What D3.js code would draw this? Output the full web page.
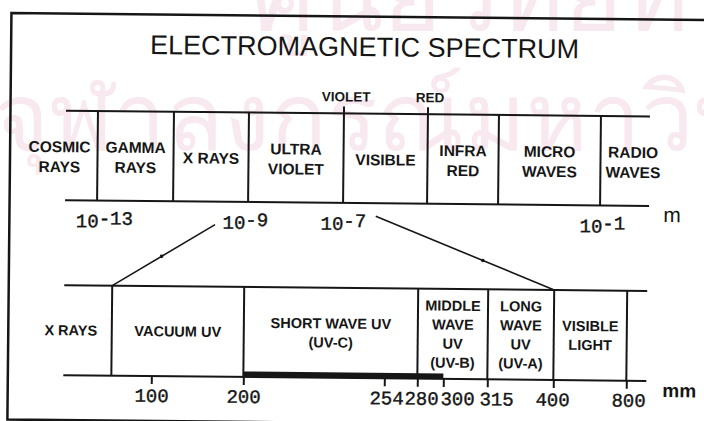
<!DOCTYPE html>
<html><head><meta charset="utf-8">
<script src="https://cdn.jsdelivr.net/npm/d3@7"></script>
<style>html,body{margin:0;padding:0;background:#fff;} svg{display:block;}</style>
</head><body>
<svg id="chart" width="704" height="421"></svg>
<script>
// ---------------- data ----------------
const title = "ELECTROMAGNETIC SPECTRUM";
// upper band: log10(wavelength / m), schematic band edges
const upperLabels = ["COSMIC|RAYS","GAMMA|RAYS","X RAYS","ULTRA|VIOLET","VISIBLE","INFRA|RED","MICRO|WAVES","RADIO|WAVES"];
const upperEdges = [-14, -13, -11, -9, -7, -6.2, -3, -1, 0];
const upperTicks = [-13, -9, -7, -1];
const upperTickExp = ["-13", "-9", "-7", "-1"];
const upperUnit = "m";
const visibleLabels = ["VIOLET", "RED"];
const visibleEdges = [-7, -6.2];
const zoomFrom = [-9, -7];
// lower band: wavelength (nm, labelled "mm" as in the source), schematic axis
const lowerLabels = ["X RAYS","VACUUM UV","SHORT WAVE UV|(UV-C)","MIDDLE|WAVE|UV|(UV-B)","LONG|WAVE|UV|(UV-A)","VISIBLE|LIGHT"];
const lowerEdges = [0, 10, 200, 280, 315, 400, 800, 1000];
const lowerTicks = [100, 200, 254, 280, 300, 315, 400, 800];
const lowerUnit = "mm";
const zoomTo = [10, 400];
const highlightRange = [200, 300];
const watermark = ["ศูนย์วิทยทรัพยากร", "จุฬาลงกรณ์มหาวิทยาลัย"];

// ---------------- layout / style ----------------
const L = {
  rot: 0.57, cx: 352, cy: 210,
  frameX: 9.5, frameTop: 16.5, frameBottom: 423,
  titleX: 363, titleY: 56, titleSize: 27,
  up: { top: 113.5, bottom: 203, stops: [65, 97, 173, 248, 343, 427, 498, 600, 649],
        labelCenter: 159.5, lh: 20, font: 15.5,
        labelShift: [-22, 0, 0, 0, 0, 0, 0, 8], markUp: 7, markLabelY: 101.5,
        tickShift: { "-13": 7, "-9": -3, "-7": 0, "-1": 2 } },
  low: { top: 288, bottom: 378, stops: [65, 113, 153, 245, 386, 419, 445, 489, 555, 628, 648],
         labelCenter: 333, lh: 19, font: 14.5, labelShift: [-17, 0, 0, 0, 0, 0], barH: 5.5,
         tickShift: { 254: 2, 280: 4, 300: 14, 315: 9, 400: -1, 800: 2 } },
  tickFont: 19, ink: "#161616", line: 2
};

const svg = d3.select("#chart");
svg.append("rect").attr("width", 704).attr("height", 421).attr("fill", "#fff");

// faint scanned watermark
const wm = svg.append("g").attr("fill", "#f8e8ef").attr("font-family", "'Noto Sans', 'DejaVu Sans', sans-serif");
wm.append("text").attr("x", 252).attr("y", 30).attr("font-size", 100).text(watermark[0]);
wm.append("text").attr("x", -6).attr("y", 150).attr("font-size", 94).text(watermark[1]);

const g = svg.append("g").attr("transform", `rotate(${L.rot},${L.cx},${L.cy})`);
const ink = L.ink;

// frame
g.append("path").attr("fill", "none").attr("stroke", ink).attr("stroke-width", 2.5)
  .attr("d", `M720,${L.frameTop}H${L.frameX}V${L.frameBottom}H720`);

const sans = "'Liberation Sans', Arial, sans-serif";
const mono = "'Liberation Mono', 'Courier New', monospace";

// title
g.append("text").attr("x", L.titleX).attr("y", L.titleY).attr("text-anchor", "middle")
  .attr("font-family", sans).attr("font-size", L.titleSize)
  .attr("fill", ink).text(title);

function multiLabel(sel, x, center, lh, size, text) {
  const lines = text.split("|");
  const capH = size * 0.716;
  lines.forEach((ln, i) => {
    sel.append("text").attr("x", x)
      .attr("y", center + (i - (lines.length - 1) / 2) * lh + capH / 2)
      .attr("text-anchor", "middle").attr("font-family", sans).attr("font-weight", "bold")
      .attr("font-size", size).attr("fill", ink).text(ln);
  });
}

// ---------- upper band ----------
const xUp = d3.scaleLinear().domain(upperEdges).range(L.up.stops);
const up = g.append("g");
[L.up.top, L.up.bottom].forEach(y => up.append("line")
  .attr("x1", xUp(upperEdges[0])).attr("x2", xUp(upperEdges[upperEdges.length - 1]))
  .attr("y1", y).attr("y2", y).attr("stroke", ink).attr("stroke-width", L.line));
up.selectAll("line.div").data(upperEdges.slice(1, -1)).join("line").attr("class", "div")
  .attr("x1", d => xUp(d)).attr("x2", d => xUp(d))
  .attr("y1", d => visibleEdges.includes(d) ? L.up.top - L.up.markUp : L.up.top).attr("y2", L.up.bottom)
  .attr("stroke", ink).attr("stroke-width", L.line);
visibleLabels.forEach((t, i) => up.append("text").attr("x", xUp(visibleEdges[i]) + 2).attr("y", L.up.markLabelY)
  .attr("text-anchor", "middle").attr("font-family", sans).attr("font-weight", "bold")
  .attr("font-size", 13.5).attr("fill", ink).text(t));
upperLabels.forEach((t, i) => {
  const cx = (xUp(upperEdges[i]) + xUp(upperEdges[i + 1])) / 2 + L.up.labelShift[i];
  multiLabel(up, cx, L.up.labelCenter, L.up.lh, L.up.font, t);
});

// upper axis (labels only)
const upAxis = g.append("g").attr("transform", `translate(0,${L.up.bottom})`)
  .call(d3.axisBottom(xUp).tickValues(upperTicks).tickSize(0).tickFormat(() => "10"));
upAxis.select(".domain").remove();
upAxis.selectAll("text").attr("dy", null).attr("y", 27)
  .attr("x", d => L.up.tickShift[String(d)] || 0)
  .attr("font-family", mono).attr("font-size", L.tickFont).attr("fill", ink)
  .attr("stroke", ink).attr("stroke-width", 0.4)
  .each(function (d, i) {
    d3.select(this).append("tspan").attr("dy", -3).text(upperTickExp[i]);
  });
g.append("text").attr("x", 672).attr("y", 219).attr("text-anchor", "middle")
  .attr("font-family", sans).attr("font-size", 21).attr("fill", ink).text(upperUnit);

// ---------- lower band ----------
const lowDomain = Array.from(new Set([...lowerEdges, ...lowerTicks])).sort((a, b) => a - b);
const xLow = d3.scaleLinear().domain(lowDomain).range(L.low.stops);
const low = g.append("g");
[L.low.top, L.low.bottom].forEach(y => low.append("line")
  .attr("x1", xLow(lowerEdges[0])).attr("x2", xLow(lowerEdges[lowerEdges.length - 1]))
  .attr("y1", y).attr("y2", y).attr("stroke", ink).attr("stroke-width", L.line));
low.selectAll("line.div").data(lowerEdges.slice(1, -1)).join("line").attr("class", "div")
  .attr("x1", d => xLow(d)).attr("x2", d => xLow(d))
  .attr("y1", L.low.top).attr("y2", L.low.bottom)
  .attr("stroke", ink).attr("stroke-width", L.line);
low.append("rect").attr("x", xLow(highlightRange[0])).attr("width", xLow(highlightRange[1]) - xLow(highlightRange[0]))
  .attr("y", L.low.bottom - L.low.barH).attr("height", L.low.barH).attr("fill", ink);
lowerLabels.forEach((t, i) => {
  const cx = (xLow(lowerEdges[i]) + xLow(lowerEdges[i + 1])) / 2 + L.low.labelShift[i];
  multiLabel(low, cx, L.low.labelCenter, L.low.lh, L.low.font, t);
});
const lowAxis = g.append("g").attr("transform", `translate(0,${L.low.bottom})`)
  .call(d3.axisBottom(xLow).tickValues(lowerTicks).tickSize(8).tickSizeOuter(0).tickFormat(d3.format("d")));
lowAxis.select(".domain").remove();
lowAxis.selectAll("line").attr("stroke", ink).attr("stroke-width", L.line);
lowAxis.selectAll("text").attr("dy", null).attr("y", 26)
  .attr("x", d => L.low.tickShift[d] || 0)
  .attr("font-family", mono).attr("font-size", L.tickFont).attr("fill", ink)
  .attr("stroke", ink).attr("stroke-width", 0.4);
g.append("text").attr("x", 681).attr("y", 394).attr("text-anchor", "middle")
  .attr("font-family", sans).attr("font-weight", "bold").attr("font-size", 19).attr("fill", ink).text(lowerUnit);

// ---------- magnification connectors ----------
const tickText = v => upAxis.selectAll(".tick").filter(d => d === v).select("text").node();
const bl = tickText(zoomFrom[0]).getBBox();
const br = tickText(zoomFrom[1]).getBBox();
const baseY = L.up.bottom + 27;
const p0 = [xUp(zoomFrom[0]) + bl.x - 7, baseY - 4];
const p1 = [xLow(zoomTo[0]), L.low.top];
const q0 = [xUp(zoomFrom[1]) + br.x + br.width + 10, baseY - 14];
const q1 = [xLow(zoomTo[1]), L.low.top];
[[p0, p1, 0.52], [q0, q1, 0.6]].forEach(([a, b, t]) => {
  g.append("line").attr("x1", a[0]).attr("y1", a[1]).attr("x2", b[0]).attr("y2", b[1])
    .attr("stroke", ink).attr("stroke-width", 1.6);
  g.append("circle").attr("cx", a[0] + (b[0] - a[0]) * t).attr("cy", a[1] + (b[1] - a[1]) * t)
    .attr("r", 1.8).attr("fill", ink);
});
</script>
</body></html>
